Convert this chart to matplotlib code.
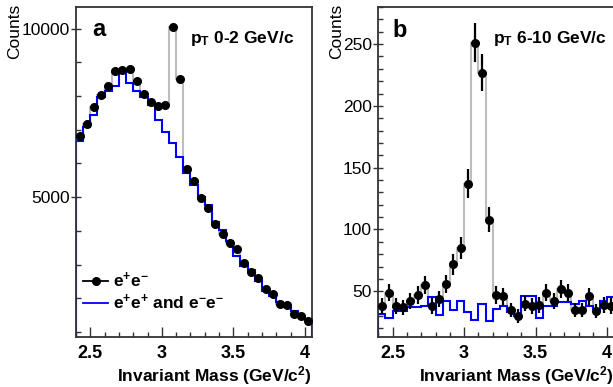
import numpy as np
import matplotlib
matplotlib.use('Agg')
import matplotlib.pyplot as plt
from matplotlib.ticker import MultipleLocator, FormatStrFormatter
from matplotlib.lines import Line2D

plt.rcParams['font.family'] = 'Liberation Sans'
plt.rcParams['mathtext.fontset'] = 'custom'
plt.rcParams['mathtext.rm'] = 'Liberation Sans'
plt.rcParams['mathtext.bf'] = 'Liberation Sans:bold'
plt.rcParams['mathtext.it'] = 'Liberation Sans:italic'

# binning: 33 bins of 0.05 GeV/c^2 from 2.4 to 4.05
mass_lo, mass_hi, n_bins = 2.4, 4.05, 33

# panel a : pT 0-2 GeV/c
unlike_a = [6810, 7180, 7670, 8020, 8290, 8740, 8760, 8790, 8440, 8060, 7810,
            7690, 7730, 10050, 8490, 5840, 5490, 4980, 4680, 4190, 3910, 3630,
            3450, 3060, 2770, 2600, 2265, 2120, 1830, 1790, 1520, 1485, 1320]
like_a = [6650, 7080, 7450, 7980, 8140, 8300, 8690, 8400, 8140, 7970, 7720,
          7280, 6930, 6610, 6190, 5710, 5370, 4990, 4770, 4250, 4010, 3710,
          3240, 2970, 2840, 2520, 2225, 2080, 1880, 1730, 1610, 1480, 1355]

# panel b : pT 6-10 GeV/c
unlike_b = [38, 49, 38, 37, 42, 47, 55, 38, 44, 56, 72, 85, 137, 251, 227, 108,
            47, 46, 35, 30, 40, 38, 39, 49, 42, 52, 49, 35, 35, 46, 34, 39, 38]
err_b = [6.2, 7.0, 6.2, 6.1, 6.5, 6.9, 7.4, 6.2, 6.6, 7.5, 8.5, 9.2, 11.7, 15.8,
         15.1, 10.4, 6.9, 6.8, 5.9, 5.5, 6.3, 6.2, 6.2, 7.0, 6.5, 7.2, 7.0, 5.9,
         5.9, 6.8, 5.8, 6.2, 6.2]
like_b = [32, 28, 34, 34, 37, 37, 38, 45, 31, 42, 35, 42, 33, 27, 40, 26, 36,
          38, 33, 30, 46, 46, 28, 38, 38, 41, 41, 40, 42, 38, 34, 42, 45]

edges = np.linspace(mass_lo, mass_hi, n_bins + 1)
centers = 0.5 * (edges[:-1] + edges[1:])

GRAY = '#bdbdbd'
BLUE = '#0000ff'
FRAME = '#333333'


def style_axes(ax, ylim, major, minor):
    ax.set_xlim(mass_lo, mass_hi)
    ax.set_ylim(*ylim)
    ax.xaxis.set_major_locator(MultipleLocator(0.5))
    ax.xaxis.set_minor_locator(MultipleLocator(0.1))
    ax.xaxis.set_major_formatter(FormatStrFormatter('%g'))
    ax.yaxis.set_major_locator(MultipleLocator(major))
    ax.yaxis.set_minor_locator(MultipleLocator(minor))
    ax.tick_params(axis='x', which='major', direction='in', length=7, width=1,
                   labelsize=13, pad=6, color=FRAME)
    ax.tick_params(axis='x', which='minor', direction='in', length=3.5,
                   width=1, color=FRAME)
    ax.tick_params(axis='y', which='major', direction='inout', length=7,
                   width=1, labelsize=12.5, pad=1, color=FRAME)
    ax.tick_params(axis='y', which='minor', direction='in', length=3.5,
                   width=1, color=FRAME)
    for lab in ax.get_xticklabels():
        lab.set_fontweight('bold')
    for sp in ax.spines.values():
        sp.set_color(FRAME)
        sp.set_linewidth(1.3)
    ax.set_xlabel(r'Invariant Mass (GeV/c$^{\mathbf{2}}$)', fontsize=12.5,
                  fontweight='bold', loc='right', labelpad=1)


fig = plt.figure(figsize=(6.13, 3.87), dpi=100)
ax_a = fig.add_axes([76 / 613, 50 / 387, 236 / 613, 330 / 387])
ax_b = fig.add_axes([378.3 / 613, 50 / 387, 236 / 613, 330 / 387])

# panel a
ax_a.stairs(unlike_a, edges, color=GRAY, lw=1.5, zorder=1)
ax_a.stairs(like_a, edges, color=BLUE, lw=1.5, zorder=2)
ax_a.plot(centers, unlike_a, 'o', color='k', ms=5.5, zorder=3)
style_axes(ax_a, (850, 10640), 5000, 1000)
ax_a.text(0.068, 0.933, 'a', transform=ax_a.transAxes, fontsize=17,
          fontweight='bold', va='center', ha='left')
ax_a.text(0.483, 0.906, r'$\mathbf{p_{T}}$ 0-2 GeV/c', transform=ax_a.transAxes,
          fontsize=12.5, fontweight='bold', va='center', ha='left')

handles = [Line2D([], [], color='k', marker='o', ms=5.5, lw=1.3),
           Line2D([], [], color=BLUE, lw=1.3)]
labels = [r'$\mathbf{e^{+}e^{-}}$', r'$\mathbf{e^{+}e^{+}}$ and $\mathbf{e^{-}e^{-}}$']
ax_a.legend(handles, labels, loc='lower left', bbox_to_anchor=(0.03, 0.075),
            frameon=False, fontsize=12.5, handlelength=1.45, handletextpad=0.3,
            labelspacing=0.15, borderpad=0, borderaxespad=0,
            prop={'weight': 'bold', 'size': 12.5})

# panel b
ax_b.stairs(unlike_b, edges, color=GRAY, lw=1.5, zorder=1)
ax_b.stairs(like_b, edges, color=BLUE, lw=1.5, zorder=2)
ax_b.errorbar(centers, unlike_b, yerr=err_b, fmt='o', color='k', ms=5.5,
              elinewidth=1.6, capsize=0, zorder=3)
style_axes(ax_b, (13, 280), 50, 10)
ax_b.text(0.062, 0.93, 'b', transform=ax_b.transAxes, fontsize=17,
          fontweight='bold', va='center', ha='left')
ax_b.text(0.486, 0.906, r'$\mathbf{p_{T}}$ 6-10 GeV/c', transform=ax_b.transAxes,
          fontsize=12.5, fontweight='bold', va='center', ha='left')

# y titles, ROOT style (top aligned)
fig.text(15 / 613, 1 - 4 / 387, 'Counts', rotation=90, ha='center', va='top',
         fontsize=12.5)
fig.text(337 / 613, 1 - 4 / 387, 'Counts', rotation=90, ha='center', va='top',
         fontsize=12.5)

fig.savefig('out.png', dpi=100)
